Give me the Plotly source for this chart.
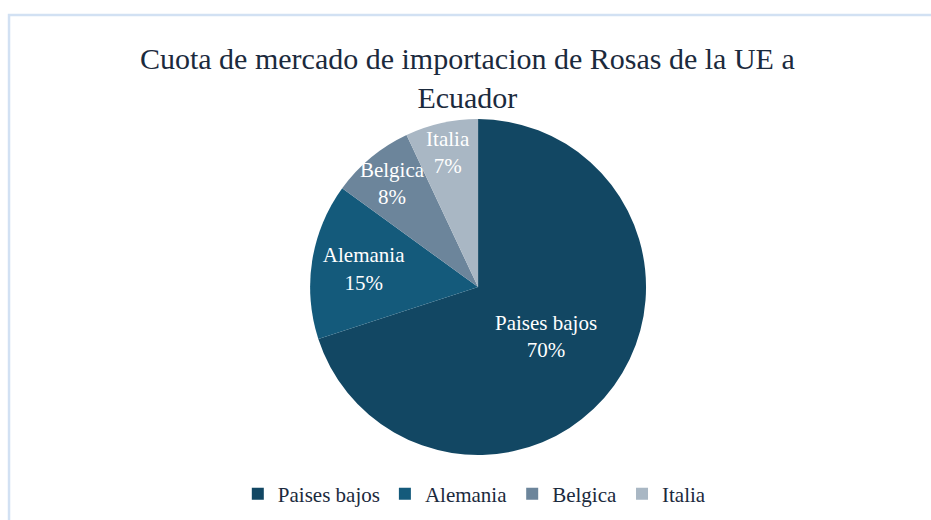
import plotly.graph_objects as go

labels = ["Paises bajos", "Alemania", "Belgica", "Italia"]
values = [70, 15, 8, 7]
colors = ["#124763", "#145a7b", "#6c859b", "#a9b7c4"]

fig = go.Figure(go.Pie(
    labels=labels,
    values=values,
    sort=False,
    direction="clockwise",
    rotation=0,
    marker=dict(colors=colors, line=dict(width=0)),
    texttemplate="%{label}<br>%{percent:.0%}",
    textposition="inside",
    insidetextorientation="horizontal",
    textfont=dict(family="Liberation Serif", size=21, color="white"),
    domain=dict(x=[0.25, 0.777], y=[0.125, 0.771]),
    hoverinfo="label+percent",
))

fig.update_layout(
    width=931, height=520,
    margin=dict(l=0, r=0, t=0, b=0),
    paper_bgcolor="white",
    title=dict(
        text="Cuota de mercado de importacion de Rosas de la UE a<br>Ecuador",
        x=0.502, xanchor="center", y=0.868, yanchor="middle",
        font=dict(family="Liberation Serif", size=30, color="#1b2a3d"),
    ),
    showlegend=True,
    legend=dict(
        orientation="h", x=0.51, xanchor="center", y=0.05, yanchor="middle",
        font=dict(family="Liberation Serif", size=21, color="#1b2a3d"),
        itemwidth=30, traceorder="normal",
    ),
    uniformtext=dict(minsize=21, mode="show"),
    shapes=[dict(type="rect", xref="paper", yref="paper",
                 x0=0.0097, x1=1.05, y0=-0.05, y1=0.971,
                 line=dict(color="#d2e1f3", width=2.5), layer="below")],
)

fig.write_html("out.html", config={"displayModeBar": False},
               post_script="document.body.style.margin='0';document.body.style.overflow='hidden';")
